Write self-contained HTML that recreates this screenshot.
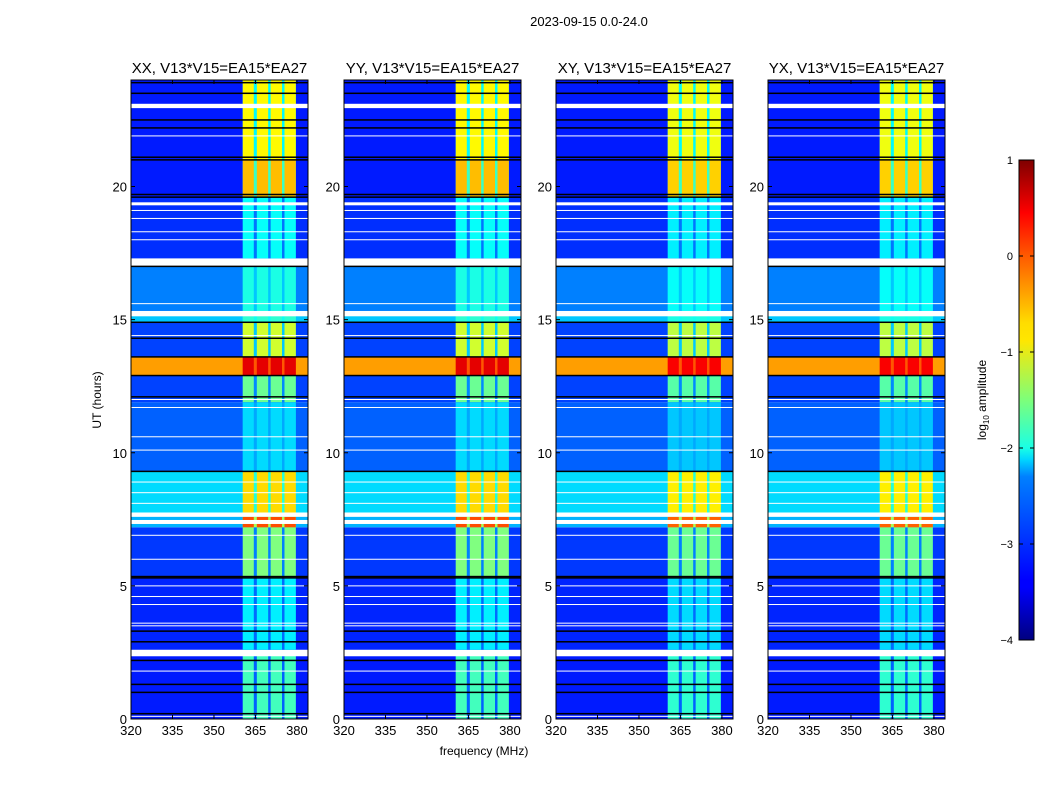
<!DOCTYPE html>
<html><head><meta charset="utf-8"><style>
body{margin:0;background:#fff;font-family:"Liberation Sans",sans-serif;}
svg text{font-family:"Liberation Sans",sans-serif;}
</style></head><body>
<svg id="fig" width="1050" height="800" xmlns="http://www.w3.org/2000/svg">
<text x="589" y="26" font-size="13" text-anchor="middle">2023-09-15 0.0-24.0</text>
<g id="panels"></g>
<text x="484" y="755" font-size="12" text-anchor="middle">frequency (MHz)</text>
<text transform="translate(101,400) rotate(-90)" font-size="12" text-anchor="middle">UT (hours)</text>
<defs><linearGradient id="jet" x1="0" y1="1" x2="0" y2="0">
<stop offset="0" stop-color="#00007f"/><stop offset="0.11" stop-color="#0000ff"/><stop offset="0.125" stop-color="#0000ff"/><stop offset="0.34" stop-color="#0080ff"/><stop offset="0.375" stop-color="#00d4ff"/><stop offset="0.4" stop-color="#1affe5"/><stop offset="0.5" stop-color="#7dff7a"/><stop offset="0.625" stop-color="#ffe600"/><stop offset="0.66" stop-color="#ffdd00"/><stop offset="0.8" stop-color="#ff5a00"/><stop offset="0.89" stop-color="#ff0000"/><stop offset="1" stop-color="#7f0000"/></linearGradient></defs>
<rect x="1019" y="160" width="15" height="480" fill="url(#jet)" stroke="#000" stroke-width="1"/>
<g id="cbticks"></g>
<text transform="translate(986,400) rotate(-90)" font-size="12" text-anchor="middle">log<tspan font-size="8" dy="3">10</tspan><tspan dy="-3"> amplitude</tspan></text>
</svg>
<script>
const panelTitles=["XX, V13*V15=EA15*EA27","YY, V13*V15=EA15*EA27","XY, V13*V15=EA15*EA27","YX, V13*V15=EA15*EA27"];
const panelOffset=[0,0,-0.1,-0.1];
const segStart=[0,2.6,5.3,7.2,7.6,9.3,11.9,12.9,13.6,14.9,15.3,17.3,19.6,21.0];
const segEnd  =[2.4,5.3,7.2,7.6,9.3,11.9,12.9,13.6,14.9,15.3,17.0,19.6,21.0,24.0];
const segBg   =[-3.25,-3.2,-3.1,-2.5,-2.3,-2.9,-3.05,-0.4,-3.05,-2.4,-2.75,-3.15,-3.25,-3.25];
const segBand =[-1.8,-2.2,-1.5,0.0,-0.7,-2.3,-1.6,0.5,-1.1,-1.9,-2.0,-2.1,-0.55,-0.85];
const subStart=[360.4,365.5,370.5,375.5];
const subEnd  =[364.4,369.6,374.6,379.6];
const whiteLines=[0.1,1.8,2.45,2.5,3.5,3.6,4.3,4.6,5.0,6.0,6.9,7.4,7.65,7.7,8.1,8.5,8.9,10.1,10.6,11.7,12.0,14.4,15.2,15.25,15.6,17.1,17.2,18.0,18.3,18.8,19.1,19.35,21.9,23.0,23.05];
const whiteWidth=[1,1,5,5,1,1,1,1,1,1,1,4,3,3,1,1,1,1,1,1,1,1,4,4,1,4,4,1,1,1,1,3,1,3,3];
const blackLines=[0.2,1.0,1.3,2.2,2.9,3.3,5.3,5.35,9.3,12.1,12.9,13.6,14.3,14.9,17.0,19.6,19.7,21.0,21.1,22.2,22.5,23.5,23.9];
const xTicks=[320,335,350,365,380];
const yTicks=[0,5,10,15,20];
const cbTicks=[1,0,-1,-2,-3,-4];
const cbLabels=["1","0","\u22121","\u22122","\u22123","\u22124"];

const lefts=[131,344,556,768];
const W=177,TOP=80,BOT=719,H=BOT-TOP;
const NS="http://www.w3.org/2000/svg";
function jet(v){let t=(v+4)/5;t=Math.max(0,Math.min(1,t));
 const f=x=>Math.max(0,Math.min(1,x));
 const r=f(1.5-Math.abs(4*t-3)),g=f(1.5-Math.abs(4*t-2)),b=f(1.5-Math.abs(4*t-1));
 return `rgb(${Math.round(r*255)},${Math.round(g*255)},${Math.round(b*255)})`;}
function el(tag,attrs,parent){const e=document.createElementNS(NS,tag);for(const k in attrs)e.setAttribute(k,attrs[k]);parent.appendChild(e);return e;}
const root=document.getElementById('panels');
lefts.forEach((L,p)=>{
 const xs=f=>L+(f-320)*(W/64);
 const ys=h=>BOT-h*(H/24);
 const g=el('g',{},root);
 
 
 const cp=el('clipPath',{id:'cp'+p},g);el('rect',{x:L,y:TOP,width:W,height:H},cp);
 const hm=el('g',{'clip-path':'url(#cp'+p+')'},g);
 
 
 el('rect',{x:L,y:TOP,width:W,height:H,fill:'#fff'},hm);
 for(let i=0;i<segStart.length;i++){
  const y0=ys(segEnd[i]),y1=ys(segStart[i]);
  const r=el('rect',{x:L,y:y0,width:W,height:y1-y0,fill:jet(segBg[i])},hm);
  
  
  const gap=el('rect',{x:xs(subStart[0]),y:y0,width:xs(subEnd[3])-xs(subStart[0]),height:y1-y0,fill:jet(Math.max(segBg[i]+0.35,segBand[i]-1.3))},hm);
  
  
  for(let s=0;s<subStart.length;s++){
   const c=el('rect',{x:xs(subStart[s]),y:y0,width:xs(subEnd[s])-xs(subStart[s]),height:y1-y0,fill:jet(segBand[i]+panelOffset[p])},hm);
   
   
  }
 }
 whiteLines.forEach((h,i)=>{const r=el('rect',{x:L,y:ys(h)-whiteWidth[i]/2,width:W,height:whiteWidth[i],fill:'#fff'},hm);
  
  });
 blackLines.forEach(h=>{const r=el('rect',{x:L,y:ys(h)-0.75,width:W,height:1.5,fill:'#000'},hm);
  
  });
 const fr=el('rect',{x:L,y:TOP,width:W,height:H,fill:'none',stroke:'#000','stroke-width':1},g);
 
 
 const t=el('text',{x:L+W/2,y:73,'font-size':15,'text-anchor':'middle'},g);t.textContent=panelTitles[p];
 
 
 xTicks.forEach(v=>{const x=xs(v);
  el('line',{x1:x,x2:x,y1:BOT,y2:BOT-4,stroke:'#000'},g);el('line',{x1:x,x2:x,y1:TOP,y2:TOP+4,stroke:'#000'},g);
  const tx=el('text',{x:x,y:BOT+16,'font-size':13,'text-anchor':'middle'},g);tx.textContent=v;
  
  });
 yTicks.forEach(v=>{const y=ys(v);
  el('line',{x1:L,x2:L+4,y1:y,y2:y,stroke:'#000'},g);el('line',{x1:L+W,x2:L+W-4,y1:y,y2:y,stroke:'#000'},g);
  const ty=el('text',{x:L-4,y:y+5,'font-size':13,'text-anchor':'end'},g);ty.textContent=v;
  
  });
});
const cb=document.getElementById('cbticks');
cbTicks.forEach((v,i)=>{const y=640-(v+4)*96;
 el('line',{x1:1019,x2:1023,y1:y,y2:y,stroke:'#000'},cb);el('line',{x1:1034,x2:1030,y1:y,y2:y,stroke:'#000'},cb);
 const t=el('text',{x:1013,y:y+4,'font-size':11,'text-anchor':'end'},cb);t.textContent=cbLabels[i];
 
 });
</script>
</body></html>
